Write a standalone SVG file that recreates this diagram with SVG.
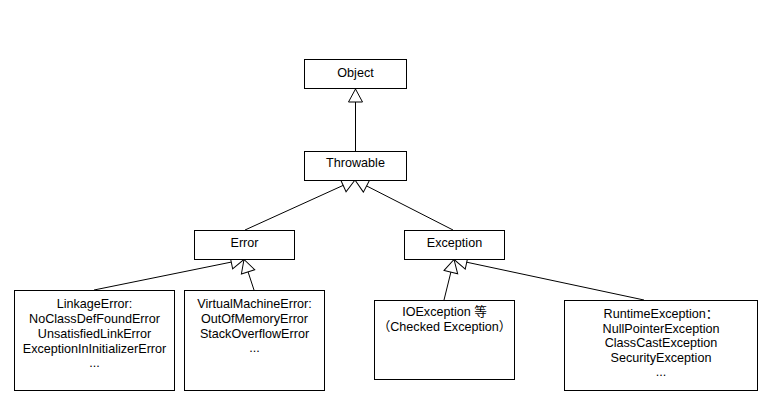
<svg xmlns="http://www.w3.org/2000/svg" width="774" height="406" viewBox="0 0 774 406">
<style>
.box{fill:#fff;stroke:#000;stroke-width:1}
.t{font-family:"Liberation Sans","Noto Sans CJK SC",sans-serif;font-size:12.6px;fill:#000;text-anchor:middle}
.edge{stroke:#000;stroke-width:1;fill:none;marker-end:url(#tri)}
</style>
<defs>
<marker id="tri" markerUnits="userSpaceOnUse" markerWidth="16" markerHeight="16" refX="13" refY="7" orient="auto" overflow="visible">
<path d="M0,0 L13,7 L0,14 Z" fill="#fff" stroke="#000" stroke-width="1"/>
</marker>
</defs>
<rect width="774" height="406" fill="#fff"/>
<g id="connectors">
<line class="edge" x1="355.5" y1="151" x2="355.5" y2="89"/>
<line class="edge" x1="245" y1="230" x2="355" y2="180"/>
<line class="edge" x1="453" y1="230" x2="355" y2="180"/>
<line class="edge" x1="94" y1="290" x2="244" y2="259.5"/>
<line class="edge" x1="254" y1="290" x2="244" y2="259.5"/>
<line class="edge" x1="444" y1="300" x2="454" y2="259.5"/>
<line class="edge" x1="644" y1="300" x2="454" y2="259.5"/>
</g>
<g id="object"><rect class="box" x="304.5" y="59.5" width="102" height="29"/><text class="t" x="355.5" y="77">Object</text></g>
<g id="throwable"><rect class="box" x="304.5" y="151.5" width="102" height="29"/><text class="t" x="355.5" y="167">Throwable</text></g>
<g id="error"><rect class="box" x="194.5" y="230.5" width="100" height="29"/><text class="t" x="244.5" y="247">Error</text></g>
<g id="exception"><rect class="box" x="404.5" y="230.5" width="100" height="29"/><text class="t" x="454.5" y="247">Exception</text></g>
<g id="linkage"><rect class="box" x="14.5" y="290.5" width="160" height="100"/>
<text class="t" x="94.5" y="308">LinkageError:</text>
<text class="t" x="94.5" y="323">NoClassDefFoundError</text>
<text class="t" x="94.5" y="338">UnsatisfiedLinkError</text>
<text class="t" x="94.5" y="353">ExceptionInInitializerError</text>
<text class="t" x="94.5" y="367">...</text>
</g>
<g id="vm"><rect class="box" x="184.5" y="290.5" width="140" height="100"/>
<text class="t" x="254.5" y="308">VirtualMachineError:</text>
<text class="t" x="254.5" y="323">OutOfMemoryError</text>
<text class="t" x="254.5" y="338">StackOverflowError</text>
<text class="t" x="254.5" y="352">...</text>
</g>
<g id="ioexception"><rect class="box" x="374.5" y="300.5" width="140" height="79"/>
<text class="t" x="444.5" y="316">IOException 等</text>
<text class="t" x="444.5" y="331">（Checked Exception）</text>
</g>
<g id="runtime"><rect class="box" x="564.5" y="300.5" width="193" height="90"/>
<text class="t" x="661" y="318">RuntimeException：</text>
<text class="t" x="661" y="333">NullPointerException</text>
<text class="t" x="661" y="347">ClassCastException</text>
<text class="t" x="661" y="362">SecurityException</text>
<text class="t" x="661" y="376">...</text>
</g>
</svg>
